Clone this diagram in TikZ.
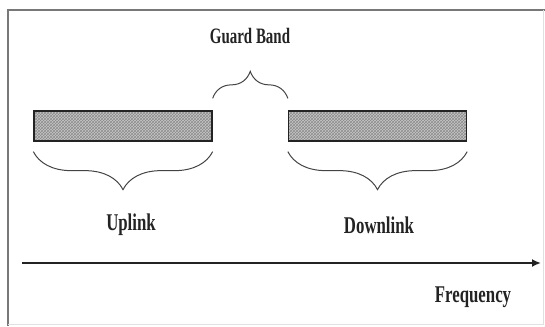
\documentclass[tikz,border=0pt]{standalone}
\usepackage{fontspec}
\setmainfont{Liberation Serif}
\definecolor{inkgray}{RGB}{35,35,35}
\definecolor{framegray}{RGB}{120,120,120}
\usepackage{tikz}
\usetikzlibrary{positioning, arrows.meta, patterns, decorations.pathreplacing}

\begin{document}
\begin{tikzpicture}[x=1pt, y=-1pt,
  band/.style={draw=inkgray, line width=1.3pt, inner sep=0pt,
    minimum width=178pt, minimum height=30pt,
    preaction={fill=black!22}, pattern=crosshatch, pattern color=black!45},
  brc/.style={decorate, decoration={brace, amplitude=#1},
    draw=inkgray!85, line width=1pt},
  lbl/.style={font=\fontsize{24}{27}\selectfont\bfseries, text=inkgray,
    xscale=0.7, inner sep=0pt},
  arw/.style={-{Latex[length=9pt, width=8pt]}, line width=2pt, inkgray},
]
\useasboundingbox (0,0) rectangle (545,326);

% frame
\draw[framegray, line width=1.5pt] (8,326) -- (8,10) -- (545,10);
\draw[black!12, line width=1pt] (543.5,10) -- (543.5,324.5) -- (8,324.5);

% bands
\node[band] (ul) at (123,126) {};
\node[band] (dl) at (377.5,126) {};

% braces
\draw[brc=38pt] ([yshift=-10pt]ul.south east) -- ([yshift=-10pt]ul.south west);
\draw[brc=38pt] ([yshift=-10pt]dl.south east) -- ([yshift=-10pt]dl.south west);
\draw[brc=27pt] ([yshift=12pt]ul.north east) -- ([yshift=12pt]dl.north west);

% labels
\node[lbl, font=\fontsize{22}{25}\selectfont\bfseries, xscale=0.97] (gb) at (250,36) {Guard Band};
\node[lbl] (up) at (131,225) {Uplink};
\node[lbl] (dn) at (379,225) {Downlink};

% frequency axis
\coordinate (f0) at (22,263);
\coordinate (f1) at (541,263);
\draw[arw] (f0) -- (f1);
\node[lbl] (fq) at (473,297) {Frequency};
\end{tikzpicture}
\end{document}
